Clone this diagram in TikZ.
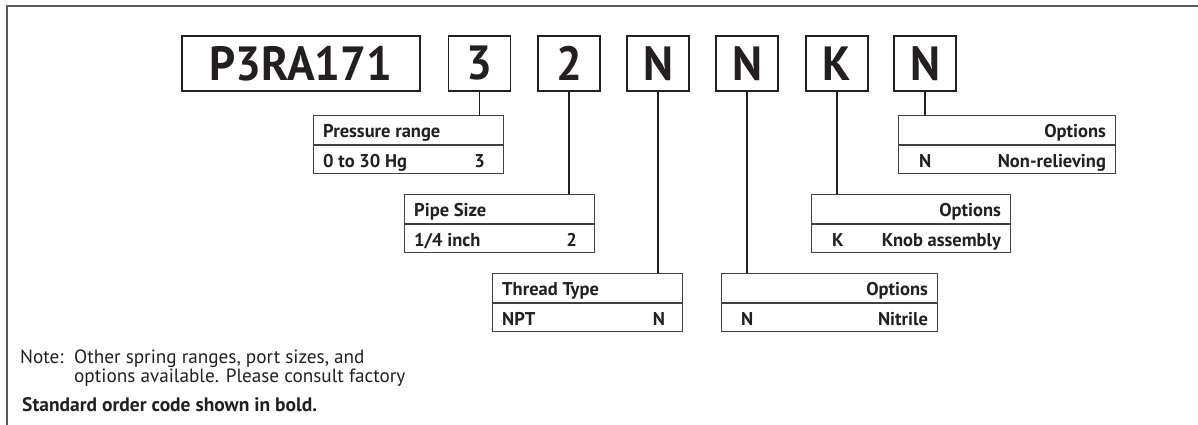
\documentclass[tikz,border=0pt]{standalone}
\usepackage{fontspec}
\setmainfont{PT Sans}
\newfontfamily\codefont[FakeStretch=0.95]{PT Sans}
\usetikzlibrary{positioning}
\definecolor{ink}{HTML}{231F20}
\definecolor{rule}{HTML}{58595B}
\definecolor{tabline}{HTML}{404042}
\tikzset{
  codebox/.style={draw=ink, line width=1.3pt, minimum height=55pt, inner sep=0pt,
    text=ink, font=\codefont\fontsize{48}{48}\selectfont\bfseries},
  tabcell/.style={draw=tabline, line width=1.1pt, minimum height=28.5pt, inner sep=0pt},
  tabtxt/.style={inner sep=0pt, text=ink, font=\fontsize{18.5}{18.5}\selectfont\bfseries},
  notetxt/.style={inner sep=0pt, text=ink, font=\fontsize{19.2}{20}\selectfont},
  lead/.style={draw=ink, line width=1.2pt},
}
\begin{document}
\begin{tikzpicture}[x=1pt,y=-1pt]
\useasboundingbox (0,0) rectangle (1198,425);

% outer frame: top and left rules only
\draw[rule, line width=1.4pt] (7,425) -- (7,6) -- (1198,6);

% order code boxes
\node[codebox, minimum width=238pt] (base) at (301,63.5) {P3RA171};
\node[codebox, minimum width=62pt] (c3) at (479.5,63.5) {3};
\node[codebox, minimum width=62pt] (c2) at (569,63.5) {2};
\node[codebox, minimum width=62pt] (cn1) at (658,63.5) {N};
\node[codebox, minimum width=62pt] (cn2) at (747,63.5) {N};
\node[codebox, minimum width=62pt] (ck) at (837,63.5) {K};
\node[codebox, minimum width=62pt] (cn3) at (925,63.5) {N};

% tables: header cell above a value cell
\node[tabcell, minimum width=190pt, anchor=north west] (prh) at (313,115) {};
\node[tabcell, minimum width=190pt, anchor=north] (prv) at (prh.south) {};
\node[tabcell, minimum width=190pt, anchor=north west] (psh) at (404,194) {};
\node[tabcell, minimum width=190pt, anchor=north] (psv) at (psh.south) {};
\node[tabcell, minimum width=190pt, anchor=north west] (tth) at (492,273) {};
\node[tabcell, minimum width=190pt, anchor=north] (ttv) at (tth.south) {};
\node[tabcell, minimum width=216pt, anchor=north west] (nih) at (721,273) {};
\node[tabcell, minimum width=216pt, anchor=north] (niv) at (nih.south) {};
\node[tabcell, minimum width=199pt, anchor=north west] (knh) at (811,194) {};
\node[tabcell, minimum width=199pt, anchor=north] (knv) at (knh.south) {};
\node[tabcell, minimum width=217pt, anchor=north west] (nrh) at (898,115) {};
\node[tabcell, minimum width=217pt, anchor=north] (nrv) at (nrh.south) {};

% leaders from code boxes down to tables
\draw[lead] (c3.south) -- (c3.south |- prh.north);
\draw[lead] (c2.south) -- (c2.south |- psh.north);
\draw[lead] (cn1.south) -- (cn1.south |- tth.north);
\draw[lead] (cn2.south) -- (cn2.south |- nih.north);
\draw[lead] (ck.south) -- (ck.south |- knh.north);
\draw[lead] (cn3.south) -- (cn3.south |- nrh.north);

% table texts
\node[tabtxt, anchor=base west] (t1) at ([xshift=10pt,yshift=7.5pt]prh.south west) {Pressure range};
\node[tabtxt, anchor=base west] (t2) at ([xshift=10pt,yshift=7pt]prv.south west) {0 to 30 Hg};
\node[tabtxt, anchor=base east] (t3) at ([xshift=-19pt,yshift=7pt]prv.south east) {3};

\node[tabtxt, anchor=base west] (t4) at ([xshift=10pt,yshift=7.5pt]psh.south west) {Pipe Size};
\node[tabtxt, anchor=base west] (t5) at ([xshift=10pt,yshift=7pt]psv.south west) {1/4 inch};
\node[tabtxt, anchor=base east] (t6) at ([xshift=-18pt,yshift=7pt]psv.south east) {2};

\node[tabtxt, anchor=base west] (t7) at ([xshift=10pt,yshift=7.5pt]tth.south west) {Thread Type};
\node[tabtxt, anchor=base west] (t8) at ([xshift=10pt,yshift=7pt]ttv.south west) {NPT};
\node[tabtxt, anchor=base east] (t9) at ([xshift=-18pt,yshift=7pt]ttv.south east) {N};

\node[tabtxt, anchor=base east] (t10) at ([xshift=-10pt,yshift=7.5pt]nih.south east) {Options};
\node[tabtxt, anchor=base west] (t11) at ([xshift=20pt,yshift=7pt]niv.south west) {N};
\node[tabtxt, anchor=base east] (t12) at ([xshift=-10pt,yshift=7pt]niv.south east) {Nitrile};

\node[tabtxt, anchor=base east] (t13) at ([xshift=-10pt,yshift=7.5pt]knh.south east) {Options};
\node[tabtxt, anchor=base west] (t14) at ([xshift=21pt,yshift=7pt]knv.south west) {K};
\node[tabtxt, anchor=base east] (t15) at ([xshift=-10pt,yshift=7pt]knv.south east) {Knob assembly};

\node[tabtxt, anchor=base east] (t16) at ([xshift=-10pt,yshift=7.5pt]nrh.south east) {Options};
\node[tabtxt, anchor=base west] (t17) at ([xshift=21pt,yshift=7pt]nrv.south west) {N};
\node[tabtxt, anchor=base east] (t18) at ([xshift=-10pt,yshift=7pt]nrv.south east) {Non-relieving};

% notes
\node[notetxt, anchor=base west] (n1) at (20,363) {Note:};
\node[notetxt, anchor=base west] (n2) at (74,363) {Other spring ranges, port sizes, and};
\node[notetxt, anchor=base west] (n3) at (74,382) {options available. Please consult factory};
\node[tabtxt, anchor=base west, font=\fontsize{19.5}{20}\selectfont\bfseries] (n4) at (22,411) {Standard order code shown in bold.};
\end{tikzpicture}
\end{document}
